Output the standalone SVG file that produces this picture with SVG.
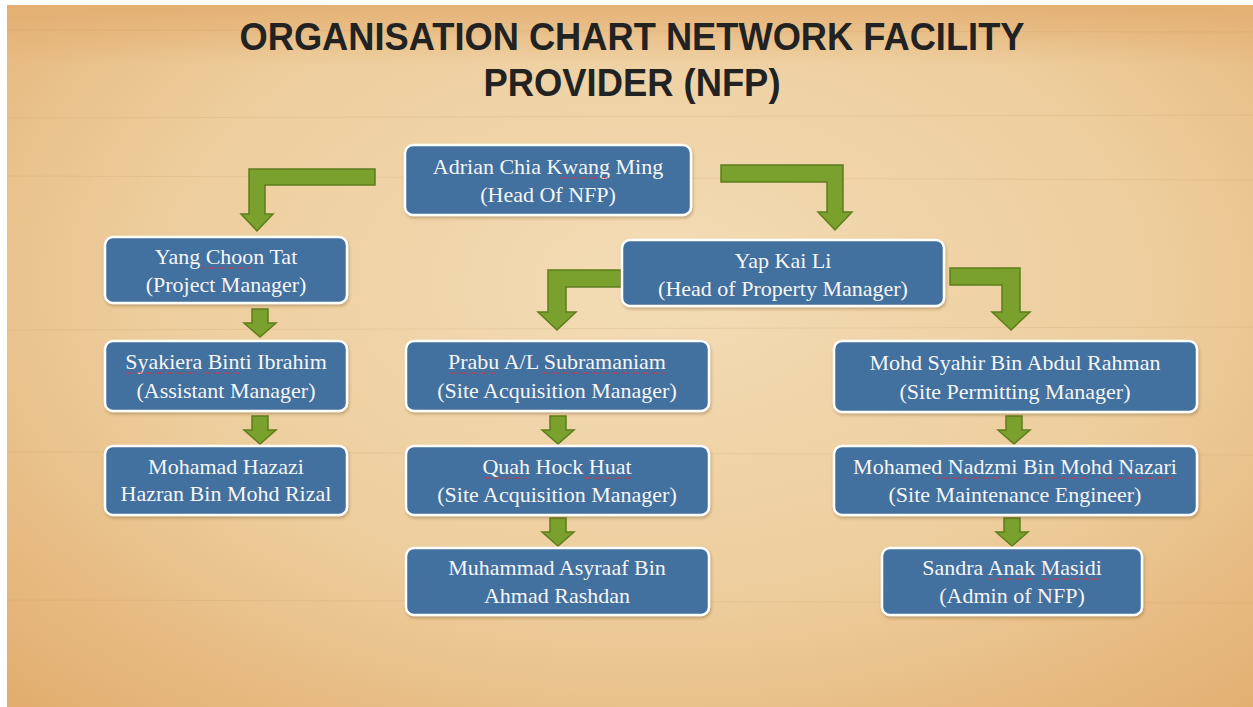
<svg xmlns="http://www.w3.org/2000/svg" width="1253" height="707" viewBox="0 0 1253 707">
<defs>
<radialGradient id="bg" cx="0.52" cy="0.4" r="0.75" gradientTransform="translate(0.52 0.4) scale(1 1.1) translate(-0.52 -0.4)">
<stop offset="0" stop-color="#f3dcb6"/>
<stop offset="0.55" stop-color="#edcd9c"/>
<stop offset="1" stop-color="#e2ad6e"/>
</radialGradient>
<linearGradient id="topband" x1="0" y1="0" x2="0" y2="1">
<stop offset="0" stop-color="#e3ad6f" stop-opacity="0.85"/>
<stop offset="1" stop-color="#e3ad6f" stop-opacity="0"/>
</linearGradient>
<filter id="sh" x="-5%" y="-10%" width="110%" height="125%">
<feDropShadow dx="1" dy="2" stdDeviation="1.5" flood-color="#6b4a20" flood-opacity="0.35"/>
</filter>
</defs>
<style>
.box{fill:#42709f;stroke:#ffffff;stroke-width:2.5;filter:url(#sh)}
.t{font-family:"Liberation Serif","Times New Roman",serif;font-size:22px;fill:#f6f6f6;text-anchor:middle}
.title{font-family:"Liberation Sans",Arial,sans-serif;font-weight:bold;font-size:38px;fill:#222222;text-anchor:middle}
.arr{fill:#7aa12e;stroke:#5d7e1c;stroke-width:1.5;stroke-linejoin:miter}
.sq{fill:none;stroke:#e03040;stroke-width:1.2;stroke-dasharray:1.5 1}
</style>
<rect x="0" y="0" width="1253" height="707" fill="#ffffff"/>
<rect x="7" y="5" width="1246" height="702" fill="url(#bg)"/>
<rect x="7" y="5" width="1246" height="60" fill="url(#topband)"/>
<g opacity="0.12" stroke="#b07a3a" stroke-width="1">
<line x1="7" y1="30" x2="1253" y2="32"/>
<line x1="7" y1="118" x2="1253" y2="115"/>
<line x1="7" y1="176" x2="1253" y2="180"/>
<line x1="7" y1="330" x2="1253" y2="327"/>
<line x1="7" y1="452" x2="1253" y2="455"/>
<line x1="7" y1="600" x2="1253" y2="603"/>
</g>

<g id="title">
<text class="title" x="632" y="50" textLength="785" lengthAdjust="spacingAndGlyphs">ORGANISATION CHART NETWORK FACILITY</text>
<text class="title" x="632" y="96" textLength="297" lengthAdjust="spacingAndGlyphs">PROVIDER (NFP)</text>
</g>

<g id="connectors">
<polygon class="arr" points="375,169 249,169 249,214 241,214 257,231 273,214 265,214 265,185 375,185"/>
<polygon class="arr" points="721,165 843,165 843,212 852,212 835,230 818,212 827,212 827,182 721,182"/>
<polygon class="arr" points="621,270 548,270 548,312 538,312 557,330 576,312 566,312 566,287 621,287"/>
<polygon class="arr" points="950,268 1020,268 1020,312 1030,312 1011,330 992,312 1002,312 1002,285 950,285"/>
<polygon class="arr" points="252,309 268,309 268,323 276,323 260,337 244,323 252,323"/>
<polygon class="arr" points="252,416 268,416 268,430 276,430 260,444 244,430 252,430"/>
<polygon class="arr" points="550,416 566,416 566,430 574,430 558,444 542,430 550,430"/>
<polygon class="arr" points="550,518 566,518 566,532 574,532 558,546 542,532 550,532"/>
<polygon class="arr" points="1006,416 1022,416 1022,430 1030,430 1014,444 998,430 1006,430"/>
<polygon class="arr" points="1004,518 1020,518 1020,532 1028,532 1012,546 996,532 1004,532"/>
</g>

<g id="n-adrian">
<rect class="box" x="405" y="145" width="286" height="70" rx="8"/>
<text class="t" x="548" y="174">Adrian Chia Kwang Ming</text>
<text class="t" x="548" y="202">(Head Of NFP)</text>
<path class="sq" d="M559 178 H612"/>
</g>
<g id="n-yang">
<rect class="box" x="105" y="237" width="242" height="66" rx="8"/>
<text class="t" x="226" y="264">Yang Choon Tat</text>
<text class="t" x="226" y="292">(Project Manager)</text>
<path class="sq" d="M202 268 H251"/>
</g>
<g id="n-yap">
<rect class="box" x="622" y="240" width="322" height="66" rx="8"/>
<text class="t" x="783" y="268">Yap Kai Li</text>
<text class="t" x="783" y="296">(Head of Property Manager)</text>
</g>
<g id="n-syakiera">
<rect class="box" x="105" y="341" width="242" height="70" rx="8"/>
<text class="t" x="226" y="369">Syakiera Binti Ibrahim</text>
<text class="t" x="226" y="398">(Assistant Manager)</text>
<path class="sq" d="M125 373 H197 M203 373 H240"/>
</g>
<g id="n-prabu">
<rect class="box" x="406" y="341" width="303" height="70" rx="8"/>
<text class="t" x="557" y="369">Prabu A/L Subramaniam</text>
<text class="t" x="557" y="398">(Site Acquisition Manager)</text>
<path class="sq" d="M449 373 H495 M541 373 H665"/>
</g>
<g id="n-syahir">
<rect class="box" x="834" y="341" width="363" height="71" rx="8"/>
<text class="t" x="1015" y="370">Mohd Syahir Bin Abdul Rahman</text>
<text class="t" x="1015" y="399">(Site Permitting Manager)</text>
</g>
<g id="n-hazazi">
<rect class="box" x="105" y="446" width="242" height="69" rx="8"/>
<text class="t" x="226" y="474">Mohamad Hazazi</text>
<text class="t" x="226" y="501">Hazran Bin Mohd Rizal</text>
</g>
<g id="n-quah">
<rect class="box" x="406" y="446" width="303" height="69" rx="8"/>
<text class="t" x="557" y="474">Quah Hock Huat</text>
<text class="t" x="557" y="502">(Site Acquisition Manager)</text>
<path class="sq" d="M483 478 H528 M583 478 H632"/>
</g>
<g id="n-nadzmi">
<rect class="box" x="834" y="446" width="363" height="69" rx="8"/>
<text class="t" x="1015" y="474">Mohamed Nadzmi Bin Mohd Nazari</text>
<text class="t" x="1015" y="502">(Site Maintenance Engineer)</text>
<path class="sq" d="M936 478 H1000 M1039 478 H1090 M1100 478 H1176"/>
</g>
<g id="n-asyraaf">
<rect class="box" x="406" y="548" width="303" height="67" rx="8"/>
<text class="t" x="557" y="575">Muhammad Asyraaf Bin</text>
<text class="t" x="557" y="603">Ahmad Rashdan</text>
</g>
<g id="n-sandra">
<rect class="box" x="882" y="548" width="260" height="67" rx="8"/>
<text class="t" x="1012" y="575">Sandra Anak Masidi</text>
<text class="t" x="1012" y="603">(Admin of NFP)</text>
<path class="sq" d="M990 579 H1034 M1041 579 H1101"/>
</g>
</svg>
